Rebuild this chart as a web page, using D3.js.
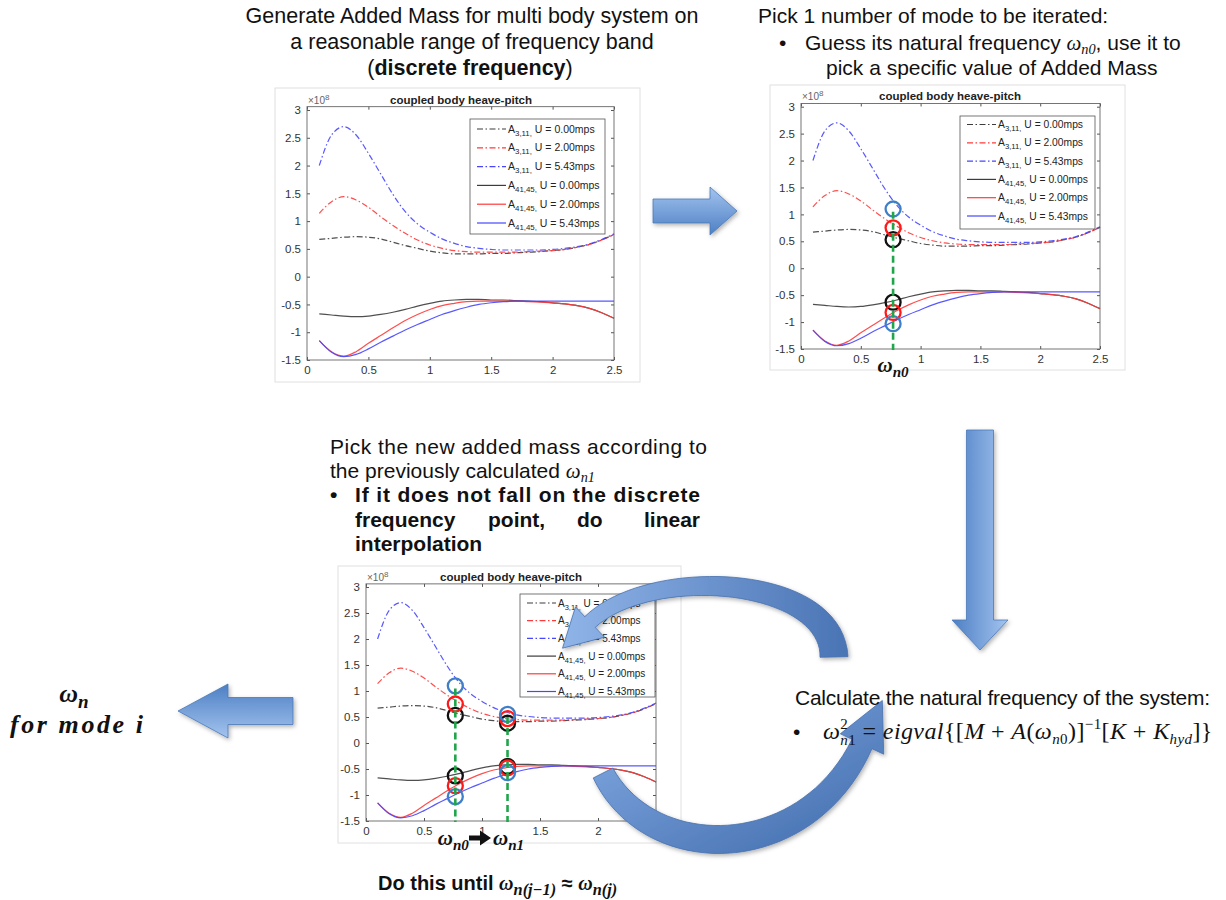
<!DOCTYPE html>
<html>
<head>
<meta charset="utf-8">
<script src="https://d3js.org/d3.v7.min.js"></script>
<style>
  body { margin: 0; background: #fff; }
  text { font-family: "Liberation Sans", Arial, sans-serif; }
  .serif { font-family: "Liberation Serif", "DejaVu Serif", serif; }
</style>
</head>
<body>
<div id="chart"></div>
<script>
// added mass values, in units of 1e8
const freq = [0.1, 0.2, 0.3, 0.4, 0.5, 0.6, 0.7, 0.8, 0.9, 1.0, 1.1, 1.2, 1.3,
              1.4, 1.5, 1.6, 1.7, 1.8, 1.9, 2.0, 2.1, 2.2, 2.3, 2.4, 2.5];
const a311U0 = [0.67, 0.69, 0.71, 0.72, 0.71, 0.68, 0.62, 0.56, 0.51, 0.46, 0.43, 0.41, 0.41,
                0.41, 0.42, 0.42, 0.43, 0.44, 0.45, 0.47, 0.49, 0.53, 0.58, 0.66, 0.76];
const a311U2 = [1.14, 1.35, 1.44, 1.38, 1.25, 1.08, 0.92, 0.78, 0.66, 0.57, 0.51, 0.47, 0.45,
                0.44, 0.44, 0.44, 0.44, 0.45, 0.46, 0.47, 0.49, 0.53, 0.58, 0.66, 0.76];
const a311U5 = [2.00, 2.55, 2.70, 2.55, 2.22, 1.85, 1.48, 1.17, 0.95, 0.80, 0.68, 0.60, 0.54,
                0.51, 0.49, 0.48, 0.48, 0.48, 0.48, 0.49, 0.51, 0.54, 0.59, 0.67, 0.77];
const a4145U0 = [-0.67, -0.69, -0.71, -0.72, -0.71, -0.68, -0.64, -0.59, -0.53, -0.48, -0.44, -0.42, -0.41,
                 -0.41, -0.42, -0.42, -0.43, -0.44, -0.45, -0.47, -0.49, -0.52, -0.57, -0.65, -0.75];
const a4145U2 = [-1.15, -1.35, -1.43, -1.35, -1.20, -1.06, -0.92, -0.79, -0.68, -0.59, -0.52, -0.48, -0.45,
                 -0.44, -0.44, -0.44, -0.44, -0.45, -0.46, -0.47, -0.49, -0.52, -0.57, -0.65, -0.75];
const a4145U5 = [-1.15, -1.36, -1.44, -1.40, -1.30, -1.18, -1.07, -0.96, -0.86, -0.77, -0.68, -0.61, -0.55,
                 -0.50, -0.47, -0.45, -0.44, -0.44, -0.44, -0.44, -0.44, -0.44, -0.44, -0.44, -0.44];

const legendSubs = ["3,11", "3,11", "3,11", "41,45", "41,45", "41,45"];
const legendSpeeds = ["0.00", "2.00", "5.43", "0.00", "2.00", "5.43"];
const xTicks = [0, 0.5, 1, 1.5, 2, 2.5];
const yTicks = [-1.5, -1, -0.5, 0, 0.5, 1, 1.5, 2, 2.5, 3];

// picked frequencies and the added mass read at them
const guess0 = 0.77;
const guess0Values = [0.53, 0.75, 1.10, -0.63, -0.82, -1.03];
const guess1 = 1.22;
const guess1Values = [0.38, 0.47, 0.55, -0.45, -0.48, -0.57];

const series = [a311U0, a311U2, a311U5, a4145U0, a4145U2, a4145U5];
const lineColors = ["#3c3c3c", "#ff3a3a", "#4646ff", "#3c3c3c", "#ff3a3a", "#4646ff"];
const circleColors = ["#111111", "#ff1a1a", "#3f7fc8", "#111111", "#ff1a1a", "#3f7fc8"];

const svg = d3.select("#chart").append("svg")
    .attr("width", 1226)
    .attr("height", 900);

const defs = svg.append("defs");
function grad(id, x1, y1, x2, y2, c1, c2) {
    const lg = defs.append("linearGradient").attr("id", id)
        .attr("x1", x1).attr("y1", y1).attr("x2", x2).attr("y2", y2);
    lg.append("stop").attr("offset", "0%").attr("stop-color", c1);
    lg.append("stop").attr("offset", "100%").attr("stop-color", c2);
}
grad("gRight", 0, 0, 0, 1, "#a3c4ef", "#4d7fc4");
grad("gDown", 1, 0, 0, 0, "#a3c4ef", "#4d7fc4");
grad("gLeft", 0, 1, 0, 0, "#a3c4ef", "#4d7fc4");
grad("gCurve1", 0, 0, 1, 0, "#8fb4e8", "#4a74b4");
grad("gCurve2", 0, 0, 1, 1, "#86aee6", "#3f6aab");
defs.append("filter").attr("id", "shadow")
    .attr("x", "-20%").attr("y", "-20%").attr("width", "140%").attr("height", "140%")
    .append("feDropShadow")
    .attr("dx", 1.5).attr("dy", 2).attr("stdDeviation", 2)
    .attr("flood-color", "#000").attr("flood-opacity", 0.3);

function drawChart(cfg) {
    const g = svg.append("g");
    g.append("rect")
        .attr("x", cfg.frame[0]).attr("y", cfg.frame[1])
        .attr("width", cfg.frame[2]).attr("height", cfg.frame[3])
        .attr("fill", "#fff").attr("stroke", "#e0e0e0");

    const x = d3.scaleLinear().domain([0, 2.5]).range([cfg.x0, cfg.x1]);
    const y = d3.scaleLinear().domain([-1.5, 3]).range([cfg.yBottom, cfg.yTop]);
    const top = y(3.06);

    const styleAxis = a => {
        a.select(".domain").remove();
        a.selectAll("line").attr("stroke", "#555");
        a.selectAll("text").attr("fill", "#333")
            .style("font-size", "11.5px")
            .style("font-family", "'Liberation Sans', Arial, sans-serif");
    };

    g.append("g").attr("transform", `translate(0,${cfg.yBottom})`)
        .call(d3.axisBottom(x).tickValues(xTicks).tickSize(-3).tickPadding(6).tickFormat(d => d))
        .call(styleAxis);
    g.append("g").attr("transform", `translate(${cfg.x0},0)`)
        .call(d3.axisLeft(y).tickValues(yTicks).tickSize(-3).tickPadding(6).tickFormat(d => d))
        .call(styleAxis);
    g.append("g").attr("transform", `translate(0,${top})`)
        .call(d3.axisTop(x).tickValues(xTicks).tickSize(-3).tickFormat(""))
        .call(styleAxis);
    g.append("g").attr("transform", `translate(${cfg.x1},0)`)
        .call(d3.axisRight(y).tickValues(yTicks).tickSize(-3).tickFormat(""))
        .call(styleAxis);

    g.append("rect")
        .attr("x", cfg.x0).attr("y", top)
        .attr("width", cfg.x1 - cfg.x0).attr("height", cfg.yBottom - top)
        .attr("fill", "none").attr("stroke", "#666").attr("stroke-width", 0.9);

    // exponent
    const ex = g.append("text").attr("x", cfg.x0 + 1).attr("y", top - 3)
        .attr("fill", "#666").style("font-size", "10px");
    ex.append("tspan").text("\u00d710");
    ex.append("tspan").attr("dy", -4).style("font-size", "8px").text("8");

    // title
    g.append("text").attr("x", cfg.titleX).attr("y", top - 3)
        .attr("text-anchor", "middle").attr("font-weight", "bold")
        .attr("fill", "#222").style("font-size", "11.5px")
        .text("coupled body heave-pitch");

    const line = d3.line()
        .x((d, i) => x(freq[i]))
        .y(d => y(d))
        .curve(d3.curveMonotoneX);

    g.selectAll("path.curve")
        .data(series)
        .join("path")
        .attr("class", "curve")
        .attr("d", line)
        .attr("fill", "none")
        .attr("stroke", (d, i) => lineColors[i])
        .attr("stroke-opacity", 0.9)
        .attr("stroke-width", 1.2)
        .attr("stroke-dasharray", (d, i) => i < 3 ? "6,2.5,1.5,2.5" : null);

    // legend
    const lg = cfg.legend;
    g.append("rect").attr("x", lg.x).attr("y", lg.y).attr("width", lg.w).attr("height", lg.h)
        .attr("fill", "#fff").attr("stroke", "#555").attr("stroke-width", 0.8);
    legendSubs.forEach((sub, i) => {
        const ry = lg.row0 + i * lg.dy;
        g.append("line")
            .attr("x1", lg.x + 7).attr("x2", lg.x + 36).attr("y1", ry).attr("y2", ry)
            .attr("stroke", lineColors[i]).attr("stroke-width", 1.2)
            .attr("stroke-dasharray", i < 3 ? "6,2.5,1.5,2.5" : null);
        const t = g.append("text").attr("x", lg.x + 38).attr("y", ry + 3.5)
            .attr("fill", "#222").style("font-size", lg.fs + "px");
        t.append("tspan").text("A");
        t.append("tspan").attr("dy", 3).style("font-size", (lg.fs * 0.75) + "px").text(sub + ",");
        t.append("tspan").attr("dy", -3).text(" U = " + legendSpeeds[i] + "mps");
    });

    // picked points
    cfg.picks.forEach(p => {
        g.selectAll(null)
            .data(p.values)
            .join("circle")
            .attr("cx", x(p.freq))
            .attr("cy", d => y(d))
            .attr("r", cfg.r)
            .attr("fill", "none")
            .attr("stroke", (d, i) => circleColors[i])
            .attr("stroke-width", 2.3);
        g.append("line")
            .attr("x1", x(p.freq)).attr("x2", x(p.freq))
            .attr("y1", y(d3.max(p.values) - 0.05)).attr("y2", cfg.yBottom + 1)
            .attr("stroke", "#1fa64a").attr("stroke-width", 2.6)
            .attr("stroke-dasharray", "7,4");
    });
    return x;
}

drawChart({
    frame: [275, 88, 365, 294], x0: 307, x1: 614, yTop: 110, yBottom: 360, titleX: 461, r: 8,
    legend: { x: 470, y: 119, w: 135, h: 115, row0: 129, dy: 18.8, fs: 10.5 },
    picks: []
});
const x2 = drawChart({
    frame: [770, 85, 355, 285], x0: 801, x1: 1100, yTop: 106.7, yBottom: 349, titleX: 950, r: 7.5,
    legend: { x: 960, y: 116, w: 135, h: 113, row0: 124.5, dy: 18.3, fs: 10.3 },
    picks: [{ freq: guess0, values: guess0Values }]
});
const x3 = drawChart({
    frame: [338, 566, 343, 277], x0: 366, x1: 656, yTop: 587, yBottom: 821, titleX: 511, r: 7.5,
    legend: { x: 520, y: 594, w: 135, h: 103, row0: 603, dy: 17.7, fs: 10 },
    picks: [{ freq: guess0, values: guess0Values }, { freq: guess1, values: guess1Values }]
});

// omega labels under the charts
function omega(x, y, sub, size, anchor) {
    const t = svg.append("text").attr("class", "serif").attr("x", x).attr("y", y)
        .attr("text-anchor", anchor || "middle")
        .attr("font-weight", "bold").attr("font-style", "italic")
        .attr("fill", "#111").style("font-size", size + "px");
    t.append("tspan").text("\u03c9");
    t.append("tspan").attr("dy", size * 0.22).style("font-size", (size * 0.72) + "px").text(sub);
    return t;
}
omega(x2(guess0), 372, "n0", 21);
omega(x3(guess0) - 2, 845, "n0", 21);
omega(x3(guess1) + 1, 845, "n1", 21);

function straightArrow(x1, y1, x2, y2, shaftW, headW, headL) {
    const len = Math.hypot(x2 - x1, y2 - y1);
    const ux = (x2 - x1) / len, uy = (y2 - y1) / len, nx = -uy, ny = ux;
    const bx = x2 - ux * headL, by = y2 - uy * headL;
    const pts = [
        [x1 + nx * shaftW / 2, y1 + ny * shaftW / 2],
        [bx + nx * shaftW / 2, by + ny * shaftW / 2],
        [bx + nx * headW / 2, by + ny * headW / 2],
        [x2, y2],
        [bx - nx * headW / 2, by - ny * headW / 2],
        [bx - nx * shaftW / 2, by - ny * shaftW / 2],
        [x1 - nx * shaftW / 2, y1 - ny * shaftW / 2]
    ];
    return "M" + pts.map(p => p.join(",")).join("L") + "Z";
}

function curvedArrow(p0, p1, p2, p3, w0, wMid, w1, headW, headL) {
    const bez = (t, i) => { const m = 1 - t; return m * m * m * p0[i] + 3 * m * m * t * p1[i] + 3 * m * t * t * p2[i] + t * t * t * p3[i]; };
    const der = (t, i) => { const m = 1 - t; return 3 * m * m * (p1[i] - p0[i]) + 6 * m * t * (p2[i] - p1[i]) + 3 * t * t * (p3[i] - p2[i]); };
    const left = [], right = [];
    for (let k = 0; k <= 40; k++) {
        const t = k / 40;
        const px = bez(t, 0), py = bez(t, 1);
        let tx = der(t, 0), ty = der(t, 1);
        const l = Math.hypot(tx, ty); tx /= l; ty /= l;
        const w = (w0 * (1 - t) + w1 * t + (wMid - (w0 + w1) / 2) * Math.sin(Math.PI * t)) / 2;
        left.push([px - ty * w, py + tx * w]);
        right.push([px + ty * w, py - tx * w]);
    }
    let tx = der(1, 0), ty = der(1, 1);
    const l = Math.hypot(tx, ty); tx /= l; ty /= l;
    const ex = p3[0], ey = p3[1];
    const head = [[ex - ty * headW / 2, ey + tx * headW / 2], [ex + tx * headL, ey + ty * headL],
                  [ex + ty * headW / 2, ey - tx * headW / 2]];
    const pts = left.concat(head, right.reverse());
    return "M" + pts.map(p => p[0].toFixed(1) + "," + p[1].toFixed(1)).join("L") + "Z";
}

const arrows = svg.append("g").attr("filter", "url(#shadow)");
arrows.append("path").attr("d", straightArrow(653, 211, 737, 211, 24, 48, 27))
    .attr("fill", "url(#gRight)").attr("stroke", "#4a78b8").attr("stroke-width", 0.8);
arrows.append("path").attr("d", straightArrow(980, 430, 980, 650, 27, 56, 30))
    .attr("fill", "url(#gDown)").attr("stroke", "#4a78b8").attr("stroke-width", 0.8);
arrows.append("path").attr("d", straightArrow(293, 711, 178, 711, 27, 54, 50))
    .attr("fill", "url(#gLeft)").attr("stroke", "#4a78b8").attr("stroke-width", 0.8);
arrows.append("path")
    .attr("d", curvedArrow([834, 657], [832, 575], [650, 565], [590, 622], 28, 20, 15, 42, 38))
    .attr("fill", "url(#gCurve1)").attr("stroke", "#4670ad").attr("stroke-width", 0.8);
arrows.append("path")
    .attr("d", curvedArrow([603, 773], [650, 866], [805, 866], [862, 744], 22, 28, 22, 48, 48))
    .attr("fill", "url(#gCurve2)").attr("stroke", "#4670ad").attr("stroke-width", 0.8);

// small black arrow between omega labels
svg.append("path").attr("d", straightArrow(469, 838, 491, 838, 5, 15, 11)).attr("fill", "#111");

// ---- texts ----
const fs = 21;
function txt(x, y, str, opts) {
    opts = opts || {};
    return svg.append("text").attr("x", x).attr("y", y)
        .attr("text-anchor", opts.anchor || "start")
        .attr("font-weight", opts.bold ? "bold" : null)
        .attr("fill", "#111").style("font-size", (opts.size || fs) + "px")
        .text(str);
}
function addOmega(t, sub, size, bold) {
    t.append("tspan").attr("class", "serif").attr("font-style", "italic")
        .attr("font-weight", bold ? "bold" : "normal").text("\u03c9");
    t.append("tspan").attr("class", "serif").attr("font-style", "italic")
        .attr("font-weight", bold ? "bold" : "normal")
        .attr("dy", size * 0.2).style("font-size", (size * 0.68) + "px").text(sub);
    return t.append("tspan").attr("dy", -size * 0.2);
}

// top left
txt(472, 23, "Generate Added Mass for multi body system on", { anchor: "middle", size: 21.5 });
txt(472, 49, "a reasonable range of frequency band", { anchor: "middle", size: 21.5 });
const l3 = txt(470, 75, "", { anchor: "middle", size: 21.5 });
l3.append("tspan").text("(");
l3.append("tspan").attr("font-weight", "bold").text("discrete frequency");
l3.append("tspan").text(")");

// top right
txt(758, 23, "Pick 1 number of mode to be iterated:");
txt(779, 50, "\u2022");
const tr2 = txt(805, 50, "Guess its natural frequency ");
addOmega(tr2, "n0", fs, false).text(", use it to");
txt(826, 75, "pick a specific value of Added Mass");

// middle
txt(330, 454, "Pick the new added mass according to").attr("textLength", 377).attr("lengthAdjust", "spacing");
const m2 = txt(330, 478, "the previously calculated ");
addOmega(m2, "n1", fs, false);
txt(330, 502, "\u2022", { bold: true });
txt(355, 502, "If it does not fall on the discrete", { bold: true }).attr("textLength", 345).attr("lengthAdjust", "spacing");
txt(355, 527, "frequency", { bold: true });
txt(488, 527, "point,", { bold: true });
txt(577, 527, "do", { bold: true });
txt(700, 527, "linear", { bold: true, anchor: "end" });
txt(355, 551, "interpolation", { bold: true });

// bottom right
txt(795, 705, "Calculate the natural frequency of the system:").attr("textLength", 415).attr("lengthAdjust", "spacing");
txt(793, 739, "\u2022");
const f = svg.append("text").attr("class", "serif").attr("x", 823).attr("y", 739)
    .attr("fill", "#111").style("font-size", "24px").style("letter-spacing", "0.4px");
const it = (s) => f.append("tspan").attr("font-style", "italic").text(s);
const up = (s) => f.append("tspan").text(s);
it("\u03c9");
f.append("tspan").attr("dy", -10).style("font-size", "15px").text("2");
f.append("tspan").attr("font-style", "italic").attr("dx", -8).attr("dy", 16).style("font-size", "15px").text("n");
f.append("tspan").style("font-size", "15px").text("1");
f.append("tspan").attr("dy", -6).text(" = ");
it("eigval");
up("{[");
it("M");
up(" + ");
it("A");
up("(");
it("\u03c9");
f.append("tspan").attr("font-style", "italic").attr("dy", 5).style("font-size", "15px").text("n");
f.append("tspan").style("font-size", "15px").text("0");
f.append("tspan").attr("dy", -5).text(")]");
f.append("tspan").attr("dy", -10).style("font-size", "15px").text("\u22121");
f.append("tspan").attr("dy", 10).text("[");
it("K");
up(" + ");
it("K");
f.append("tspan").attr("font-style", "italic").attr("dy", 5).style("font-size", "15px").text("hyd");
f.append("tspan").attr("dy", -5).text("]}");

// left result
const om = svg.append("text").attr("class", "serif").attr("x", 74).attr("y", 702)
    .attr("text-anchor", "middle").attr("font-weight", "bold").attr("font-style", "italic")
    .attr("fill", "#111").style("font-size", "26px");
om.append("tspan").text("\u03c9");
om.append("tspan").attr("dy", 6).style("font-size", "19px").text("n");
svg.append("text").attr("class", "serif").attr("x", 10).attr("y", 733)
    .attr("font-weight", "bold").attr("font-style", "italic")
    .attr("fill", "#111").style("font-size", "26px")
    .attr("textLength", 133).attr("lengthAdjust", "spacing")
    .text("for mode i");

// bottom
const b = txt(378, 890, "Do this until ", { bold: true, size: 20 });
const after = addOmega(b, "n(j\u22121)", 24, true);
after.text(" \u2248 ");
addOmega(b, "n(j)", 24, true);
</script>
</body>
</html>
